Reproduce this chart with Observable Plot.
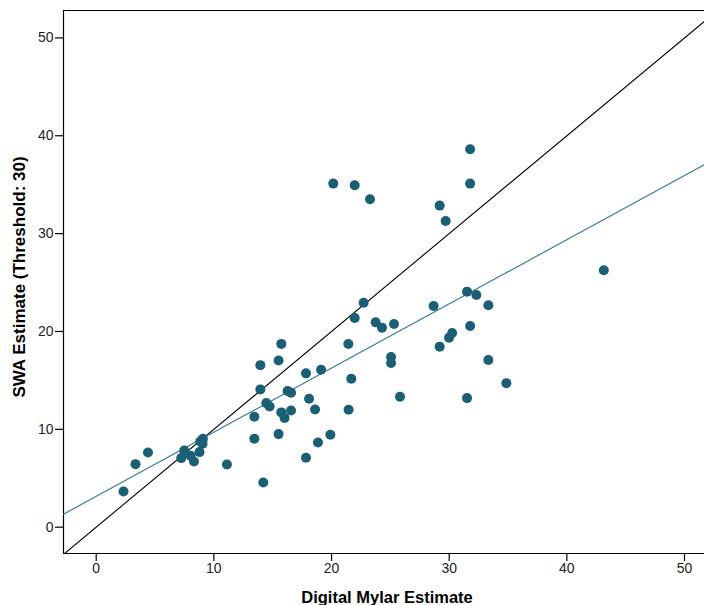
<!DOCTYPE html>
<html><head><meta charset="utf-8">
<script src="https://cdn.jsdelivr.net/npm/d3@7"></script>
<script src="https://cdn.jsdelivr.net/npm/@observablehq/plot@0.6"></script>
<style>body{margin:0;background:#fff;overflow:hidden}</style>
</head><body><div id="chart"></div>
<script>
const mylar = [2.32,3.34,4.40,7.23,7.48,8.02,8.31,8.78,8.84,9.07,9.04,11.11,13.44,13.44,13.95,13.95,14.20,14.46,14.74,15.50,15.50,15.73,15.73,16.01,16.27,16.56,16.56,17.83,17.83,18.09,18.60,18.85,19.11,19.90,20.15,21.43,21.45,21.68,21.97,21.97,22.73,23.27,23.75,24.29,25.06,25.06,25.31,25.82,28.68,29.19,29.19,29.70,29.99,30.25,31.52,31.52,31.78,31.78,31.78,32.31,33.33,33.33,34.86,43.14];
const swa = [3.65,6.44,7.64,7.06,7.84,7.30,6.72,7.67,8.76,9.04,8.53,6.41,11.29,9.04,16.56,14.08,4.57,12.68,12.34,17.04,9.51,18.73,11.73,11.15,13.91,13.74,11.93,15.72,7.10,13.13,12.03,8.66,16.09,9.45,35.11,18.71,12.00,15.17,21.37,34.94,22.94,33.51,20.93,20.39,17.38,16.77,20.76,13.33,22.60,32.86,18.45,31.29,19.37,19.84,24.07,13.19,38.62,35.11,20.55,23.72,22.67,17.08,14.72,26.25];
const xDomain = [-2.78, 51.7];
const yDomain = [-2.69, 52.8];
const xTicks = [0,10,20,30,40,50];
const yTicks = [0,10,20,30,40,50];
const xLabel = "Digital Mylar Estimate";
const yLabel = "SWA Estimate (Threshold: 30)";

const data = mylar.map((x,i)=>({x, y: swa[i]}));
const mx = d3.mean(mylar), my = d3.mean(swa);
const slope = d3.sum(mylar,(x,i)=>(x-mx)*(swa[i]-my))/d3.sum(mylar,x=>(x-mx)**2);
const intercept = my - slope*mx;
const fitLine = xDomain.map(x=>({x, y: intercept + slope*x}));
const idLine = xDomain.map(x=>({x, y: x}));

const chart = Plot.plot({
  width: 704, height: 605,
  marginLeft: 63, marginRight: 0, marginTop: 10, marginBottom: 52,
  style: {fontFamily: "'Liberation Sans', Arial, sans-serif", fontSize: "14px", color: "#222", background: "#fff"},
  x: {domain: xDomain},
  y: {domain: yDomain},
  marks: [
    Plot.ruleX([xDomain[0]], {stroke: "#000", strokeWidth: 1.2}),
    Plot.ruleY([yDomain[0]], {stroke: "#000", strokeWidth: 1.2}),
    Plot.ruleY([yDomain[1]], {stroke: "#000", strokeWidth: 1.2}),
    Plot.line(idLine, {x: "x", y: "y", stroke: "#000", strokeWidth: 1.1, clip: true}),
    Plot.line(fitLine, {x: "x", y: "y", stroke: "#2c7891", strokeWidth: 1.1, clip: true}),
    Plot.dot(data, {x: "x", y: "y", r: 5, fill: "#1b5f75", stroke: "none"}),
    Plot.axisX({ticks: xTicks, tickSize: 8, tickPadding: 2, label: null, stroke: "#000", strokeWidth: 1.2}),
    Plot.axisY({ticks: yTicks, tickSize: 8, tickPadding: 2, label: null, stroke: "#000", strokeWidth: 1.2}),
    Plot.text([xLabel], {frameAnchor: "bottom", dx: 3, dy: 44, fontWeight: "bold", fontSize: 16.5, fill: "#000", lineAnchor: "middle"}),
    Plot.text([yLabel], {frameAnchor: "left", dx: -44, dy: -5, rotate: -90, fontWeight: "bold", fontSize: 17, fill: "#000", textAnchor: "middle"})
  ]
});
document.getElementById("chart").appendChild(chart);
</script>
</body></html>
